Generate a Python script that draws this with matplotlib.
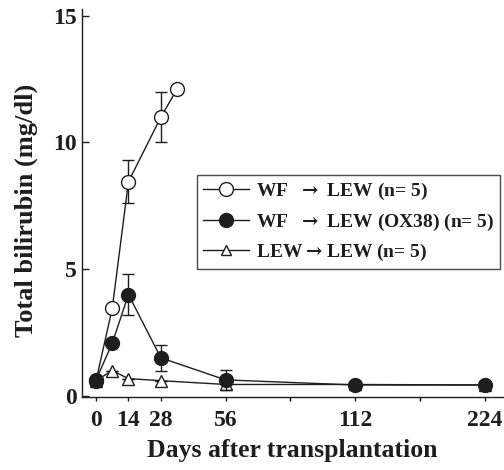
import numpy as np
import matplotlib
matplotlib.use("Agg")
import matplotlib.pyplot as plt
from matplotlib.lines import Line2D

plt.rcParams['font.family'] = ['Liberation Serif', 'DejaVu Serif']
plt.rcParams['font.weight'] = 'bold'
plt.rcParams['mathtext.fontset'] = 'dejavuserif'

# data
days_wf = [0, 7, 14, 28, 35]
bili_wf = [0.6, 3.45, 8.45, 11.0, 12.1]
err_wf = [0, 0, 0.85, 1.0, 0]

days_ox = [0, 7, 14, 28, 56, 112, 224]
bili_ox = [0.63, 2.08, 4.0, 1.5, 0.63, 0.43, 0.43]
err_ox = [0, 0, 0.82, 0.5, 0.4, 0, 0]

days_lew = [0, 7, 14, 28, 56, 112, 224]
bili_lew = [0.6, 1.0, 0.68, 0.6, 0.45, 0.45, 0.43]
err_lew = [0, 0, 0, 0, 0, 0, 0]

xticks = [0, 14, 28, 56, 112, 224]
xminor = [84, 168]
yticks = [0, 5, 10, 15]

labels = ["WF  $\\rightarrow$ LEW (n= 5)",
          "WF  $\\rightarrow$ LEW (OX38) (n= 5)",
          "LEW$\\rightarrow$LEW (n= 5)"]

def fwd(x):
    x = np.asarray(x, dtype=float)
    return np.where(x <= 112, x, 112 + (x - 112) / 2.0)

def inv(y):
    y = np.asarray(y, dtype=float)
    return np.where(y <= 112, y, 112 + (y - 112) * 2.0)

ink = '#1e1e1e'
fig = plt.figure(figsize=(5.04, 4.70), dpi=100)
ax = fig.add_axes([0.163, 0.155, 0.835, 0.825])
ax.set_xscale('function', functions=(fwd, inv))

ekw = dict(elinewidth=1.0, capsize=4, capthick=1.0)
ax.errorbar(days_lew, bili_lew, yerr=err_lew, color=ink, lw=1.0, marker='^',
            ms=8, mfc='white', mec=ink, mew=1.0, zorder=2, **ekw)
ax.errorbar(days_wf, bili_wf, yerr=err_wf, color=ink, lw=1.0, marker='o',
            ms=10, mfc='white', mec=ink, mew=1.0, zorder=3, **ekw)
ax.errorbar(days_ox, bili_ox, yerr=err_ox, color=ink, lw=1.0, marker='o',
            ms=10, mfc=ink, mec=ink, mew=1.0, zorder=4, **ekw)

h1 = Line2D([], [], color=ink, lw=1.0, marker='o', ms=10, mfc='white', mec=ink)
h2 = Line2D([], [], color=ink, lw=1.0, marker='o', ms=10, mfc=ink, mec=ink)
h3 = Line2D([], [], color=ink, lw=1.0, marker='^', ms=7, mfc='white', mec=ink)

ax.set_xlim(-6, 239.6)
ax.set_ylim(-0.05, 15.25)
ax.set_xticks(xticks)
ax.set_xticklabels([str(t) for t in xticks])
ax.set_xticks(xminor, minor=True)
ax.set_yticks(yticks)
ax.tick_params(axis='both', labelsize=17, colors=ink)
ax.tick_params(axis='x', which='both', direction='out', length=3, width=1, pad=6)
ax.tick_params(axis='y', direction='in', length=5, width=1, pad=4)
for s in ['top', 'right']:
    ax.spines[s].set_visible(False)
for s in ['left', 'bottom']:
    ax.spines[s].set_color(ink)
    ax.spines[s].set_linewidth(1.0)

ax.set_xlabel('Days after transplantation', fontsize=18.5, fontweight='bold', color=ink)
ax.set_ylabel('Total bilirubin (mg/dl)', fontsize=19, fontweight='bold', color=ink)
ax.xaxis.set_label_coords(0.5, -0.108)
ax.yaxis.set_label_coords(-0.104, 0.482)

leg = ax.legend([h1, h2, h3], labels, loc='upper left', bbox_to_anchor=(0.2725, 0.5725),
                fontsize=14, frameon=True, fancybox=False, edgecolor=ink,
                handlelength=2.4, handletextpad=0.35, borderpad=0.3, labelspacing=0.48,
                borderaxespad=0)
leg.get_frame().set_linewidth(1.0)
for t in leg.get_texts():
    t.set_color(ink)

fig.savefig('out.png', dpi=100)
